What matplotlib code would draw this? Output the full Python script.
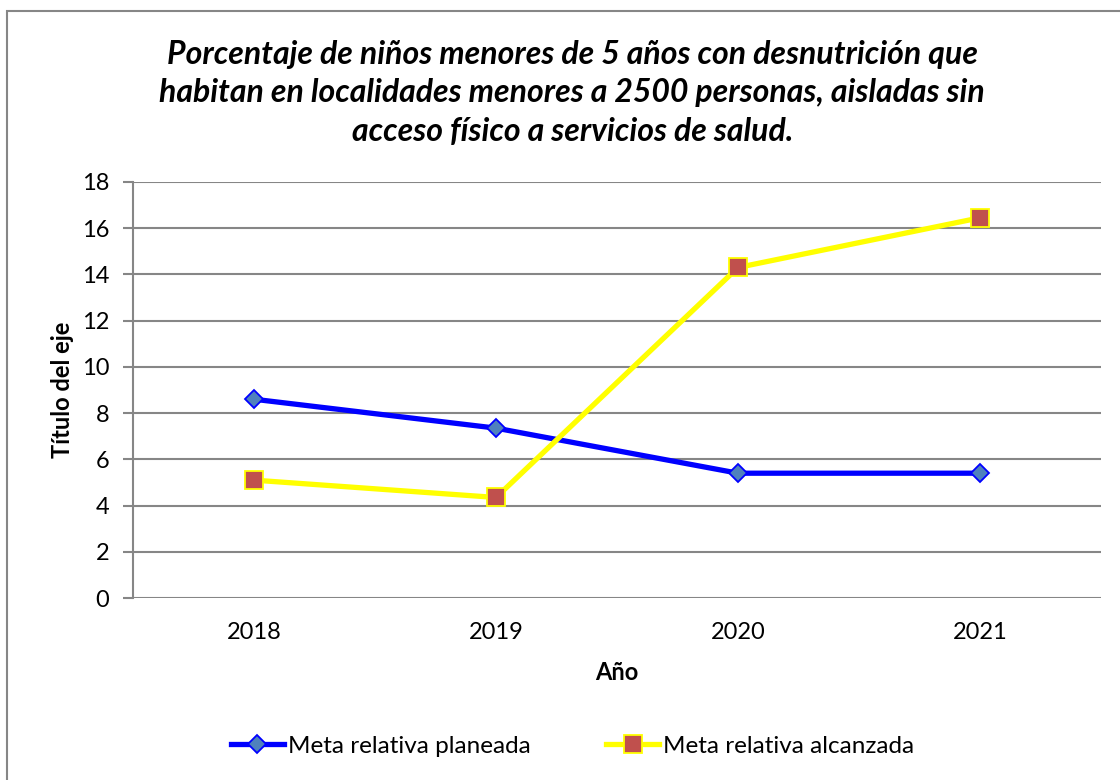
""" Porcentaje de niños con desnutrición: meta planeada vs alcanzada"""
import matplotlib
matplotlib.use("Agg")
import matplotlib.pyplot as plt  # type: ignore
from matplotlib.patches import Rectangle

plt.rcParams['font.family'] = ['Lato', 'DejaVu Sans']

years = ["2018", "2019", "2020", "2021"]
planeada = [8.6, 7.35, 5.4, 5.4]
alcanzada = [5.1, 4.35, 14.3, 16.45]
y_ticks = [0, 2, 4, 6, 8, 10, 12, 14, 16, 18]

title = ("Porcentaje de niños menores de 5 años con desnutrición que\n"
         "habitan en localidades menores a 2500 personas, aisladas sin\n"
         "acceso físico a servicios de salud.")

fig = plt.figure(figsize=(11.2, 7.8), dpi=100)
ax = fig.add_axes([0.1188, 0.2333, 0.8642, 0.5334])

# chart border
fig.patches.append(Rectangle((7 / 1120, -0.1), 1.2, 1.1 - 11 / 780, transform=fig.transFigure,
                             fill=False, edgecolor="#868686", linewidth=1.5))

x = range(len(years))
ax.plot(x, planeada, color="#0000FF", linewidth=3.8, marker="D", markersize=9.5,
        markerfacecolor="#4F81BD", markeredgecolor="#0000FF", markeredgewidth=1.3,
        label="Meta relativa planeada", zorder=3)
ax.plot(x, alcanzada, color="#FFFF00", linewidth=3.8, marker="s", markersize=12.5,
        markerfacecolor="#C0504D", markeredgecolor="#FFFF00", markeredgewidth=1.3,
        label="Meta relativa alcanzada", zorder=3)

ax.set_xlim(-0.5, 3.5)
ax.set_ylim(0, 18)
ax.set_yticks(y_ticks)
ax.set_xticks(list(x))
ax.set_xticklabels(years)
ax.yaxis.grid(True, color="#868686", linewidth=1.5)
ax.set_axisbelow(True)
for side in ("top", "right", "bottom"):
    ax.spines[side].set_visible(False)
ax.spines["left"].set_color("#868686")
ax.spines["left"].set_linewidth(1.5)
ax.tick_params(axis="y", length=7, width=1.5, color="#868686", labelsize=17, pad=10)
ax.tick_params(axis="x", length=0, labelsize=17, pad=17)

ax.set_xlabel("Año", fontsize=17, fontweight="bold", labelpad=13)
ax.set_ylabel("Título del eje", fontsize=17, fontweight="bold", labelpad=6)

fig.text(0.511, 0.881, title, ha="center", va="center", fontsize=23,
         fontweight="bold", fontstyle="italic", linespacing=1.4)

fig.legend(loc="center", bbox_to_anchor=(0.511, 0.043), ncol=2, frameon=False,
           fontsize=17.5, handlelength=2.2, handletextpad=0.15, columnspacing=3.1)

fig.savefig("out.png", dpi=100)
